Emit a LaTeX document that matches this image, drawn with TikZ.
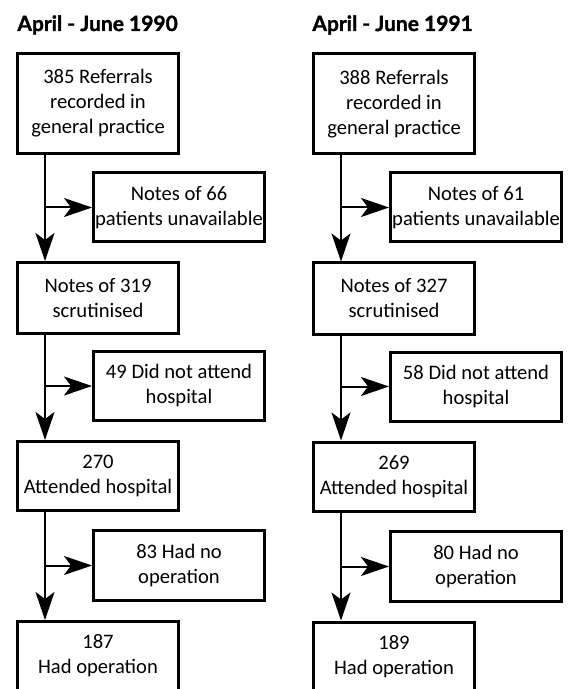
\documentclass[tikz,border=0pt]{standalone}
\usepackage{fontspec}
\setmainfont{Carlito}
\newfontfamily\headfont{Lato}[BoldFeatures={FakeBold=1.5}]
\usetikzlibrary{arrows.meta}
\tikzstyle{block} = [rectangle, draw, line width=1.5pt, align=center, inner sep=0pt, minimum height=34.5pt, font=\fontsize{10.3}{12.5}\selectfont]
\tikzstyle{mainbox} = [block, minimum width=80.5pt]
\tikzstyle{sidebox} = [block, minimum width=85.5pt]
\tikzstyle{line} = [draw, line width=1pt, -{Stealth[length=14pt,width=9.5pt,inset=3.5pt]}]
\tikzstyle{head} = [anchor=base west, inner sep=0pt, font=\headfont\bfseries\fontsize{10.5}{12}\selectfont]

\begin{document}
\begin{tikzpicture}[x=0.5pt, y=-0.5pt]
    \useasboundingbox (0,0) rectangle (569,689);
    \clip (0,0) rectangle (569,689);
    % 1990
    \node [head] (head90) at (17,31) {April - June 1990};
    \coordinate (t90) at (45,0);
    \node [mainbox, minimum height=50pt] (ref90) at (98,103.5) {385 Referrals\\recorded in\\general practice};
    \node [sidebox] (miss90) at (179,207.5) {Notes of 66\\patients unavailable};
    \node [mainbox, minimum height=35.5pt] (scr90) at (98,298) {Notes of 319\\scrutinised};
    \node [sidebox] (dna90) at (179,386) {49 Did not attend\\hospital};
    \node [mainbox] (att90) at (98,476) {270\\Attended hospital};
    \node [sidebox, minimum height=35pt] (noop90) at (179,565.5) {83 Had no\\operation};
    \node [mainbox] (op90) at (98,656) {187\\Had operation};
    \path [line] (ref90.south -| t90) -- (scr90.north -| t90);
    \path [line] (t90 |- miss90.west) -- (miss90.west);
    \path [line] (scr90.south -| t90) -- (att90.north -| t90);
    \path [line] (t90 |- dna90.west) -- (dna90.west);
    \path [line] (att90.south -| t90) -- (op90.north -| t90);
    \path [line] (t90 |- noop90.west) -- (noop90.west);
    % 1991
    \node [head] (head91) at (312,31) {April - June 1991};
    \coordinate (t91) at (341,0);
    \node [mainbox, minimum height=50pt] (ref91) at (394,104) {388 Referrals\\recorded in\\general practice};
    \node [sidebox] (miss91) at (476,207.5) {Notes of 61\\patients unavailable};
    \node [mainbox, minimum height=35.5pt] (scr91) at (394,298.5) {Notes of 327\\scrutinised};
    \node [sidebox] (dna91) at (476,386.5) {58 Did not attend\\hospital};
    \node [mainbox] (att91) at (394,476.5) {269\\Attended hospital};
    \node [sidebox, minimum height=35pt] (noop91) at (476,566.5) {80 Had no\\operation};
    \node [mainbox] (op91) at (394,656.5) {189\\Had operation};
    \path [line] (ref91.south -| t91) -- (scr91.north -| t91);
    \path [line] (t91 |- miss91.west) -- (miss91.west);
    \path [line] (scr91.south -| t91) -- (att91.north -| t91);
    \path [line] (t91 |- dna91.west) -- (dna91.west);
    \path [line] (att91.south -| t91) -- (op91.north -| t91);
    \path [line] (t91 |- noop91.west) -- (noop91.west);
\end{tikzpicture}
\end{document}
